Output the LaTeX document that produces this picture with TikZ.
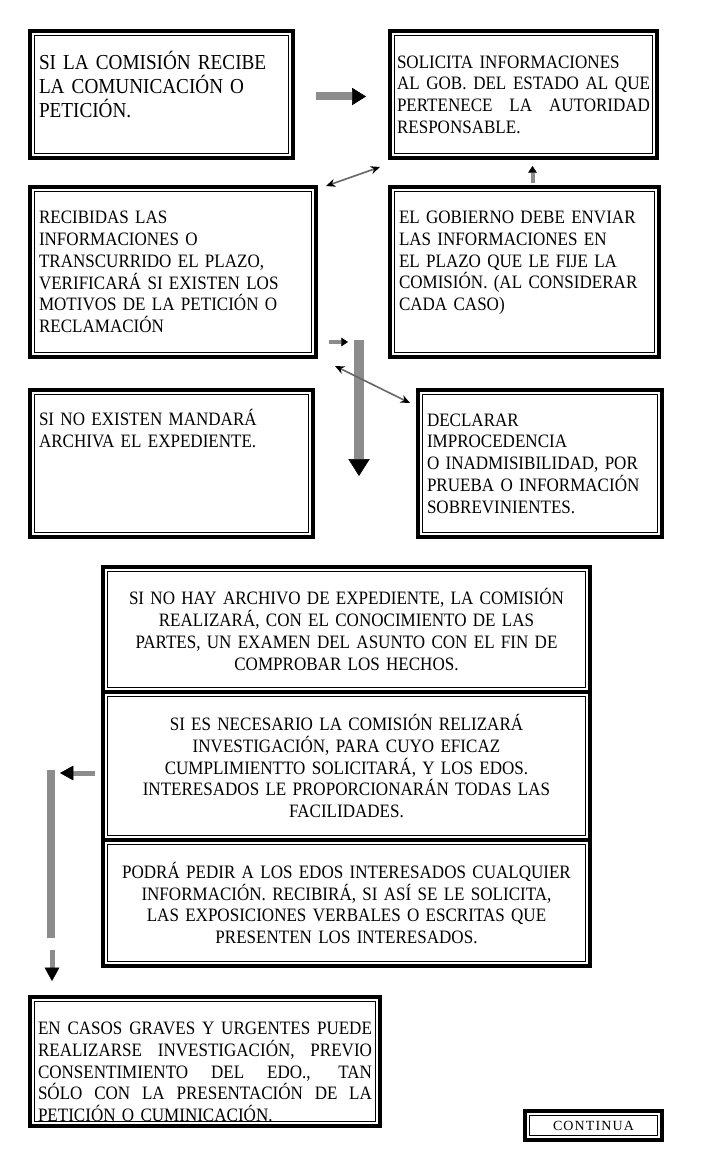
\documentclass[tikz,border=0pt]{standalone}
\usepackage{fontspec}
\setmainfont{Liberation Serif}[FakeStretch=0.9]
\newfontfamily\contfont{Liberation Serif}[LetterSpace=8]
\usetikzlibrary{arrows.meta}
\definecolor{shaft}{gray}{0.55}
\newcommand\boxfont{\fontsize{14.2}{16.3}\selectfont}
\newcommand\jl[1]{{\spaceskip=\fontdimen2\font plus 1fil\makebox[\hsize][s]{#1}}}
\begin{document}
\begin{tikzpicture}[
    x=0.75pt, y=-0.75pt,
    every node/.style={font=\boxfont},
    frame/.style={draw, line width=3pt, inner xsep=2pt, anchor=north west, align=left,
        path picture={\draw[line width=0.6pt]
            ([shift={(3.6pt,3.6pt)}]path picture bounding box.south west) rectangle
            ([shift={(-3.6pt,-3.6pt)}]path picture bounding box.north east);}},
    fatarrow/.style={draw=shaft, line width=6pt,
        -{Triangle[color=black, line width=0.4pt, length=10.5pt, width=13pt]}},
    droparrow/.style={draw=shaft, line width=7.5pt,
        -{Triangle[color=black, line width=0.4pt, length=12.75pt, width=16pt]}},
    midarrow/.style={draw=shaft, line width=3.75pt,
        -{Triangle[color=black, line width=0.4pt, length=10pt, width=11pt]}},
    smallarrow/.style={draw=shaft, line width=3pt,
        -{Triangle[color=black, line width=0.4pt, length=5pt, width=6.5pt]}},
    thinarrow/.style={draw=black!60, line width=1.2pt,
        {Stealth[color=black, length=7pt, width=6pt]}-{Stealth[color=black, length=7pt, width=6pt]}}
]
    \useasboundingbox (0,0) rectangle (716,1152);

    % upper row
    \node [frame, minimum width=197.25pt, minimum height=95.25pt, text width=183.75pt,
           font=\fontsize{16}{18}\selectfont, text depth=51.5pt] (recibe) at (28,29)
        {SI LA COMISIÓN RECIBE\\ LA COMUNICACIÓN O\\ PETICIÓN.};
    \node [frame, minimum width=200.25pt, minimum height=95.25pt, text width=189.75pt] (solicita) at (388,29)
        {SOLICITA INFORMACIONES\\ \jl{AL GOB. DEL ESTADO AL QUE}\\ \jl{PERTENECE LA AUTORIDAD}\\ RESPONSABLE.};

    % middle rows
    \node [frame, minimum width=214.5pt, minimum height=127.5pt, text width=201pt] (verifica) at (28,185)
        {RECIBIDAS LAS\\ INFORMACIONES O\\ TRANSCURRIDO EL PLAZO,\\ VERIFICARÁ SI EXISTEN LOS\\ MOTIVOS DE LA PETICIÓN O\\ RECLAMACIÓN};
    \node [frame, minimum width=201.75pt, minimum height=127.5pt, text width=188.25pt, text depth=82pt] (gobierno) at (388,185)
        {EL GOBIERNO DEBE ENVIAR\\ LAS INFORMACIONES EN\\ EL PLAZO QUE LE FIJE LA\\ COMISIÓN. (AL CONSIDERAR\\ CADA CASO)};
    \node [frame, minimum width=212.25pt, minimum height=110.25pt, text width=198.75pt, text depth=69.5pt] (archiva) at (28,388)
        {SI NO EXISTEN MANDARÁ\\ ARCHIVA EL EXPEDIENTE.};
    \node [frame, minimum width=183pt, minimum height=110.25pt, text width=169.5pt] (declarar) at (416,388)
        {DECLARAR\\ IMPROCEDENCIA\\ O INADMISIBILIDAD, POR\\ PRUEBA O INFORMACIÓN\\ SOBREVINIENTES.};

    % stacked steps
    \node [frame, align=center, minimum width=365.25pt, minimum height=93.75pt, text width=345pt] (examen) at (101,565)
        {SI NO HAY ARCHIVO DE EXPEDIENTE, LA COMISIÓN\\ REALIZARÁ, CON EL CONOCIMIENTO DE LAS\\ PARTES, UN EXAMEN DEL ASUNTO CON EL FIN DE\\ COMPROBAR LOS HECHOS.};
    \node [frame, align=center, minimum width=365.25pt, minimum height=111pt, text width=345pt] (investiga) at (101,690)
        {SI ES NECESARIO LA COMISIÓN RELIZARÁ\\ INVESTIGACIÓN, PARA CUYO EFICAZ\\ CUMPLIMIENTTO SOLICITARÁ, Y LOS EDOS.\\ INTERESADOS LE PROPORCIONARÁN TODAS LAS\\ FACILIDADES.};
    \node [frame, align=center, minimum width=365.25pt, minimum height=94.5pt, text width=345pt] (pedir) at (101,838)
        {PODRÁ PEDIR A LOS EDOS INTERESADOS CUALQUIER\\ INFORMACIÓN. RECIBIRÁ, SI ASÍ SE LE SOLICITA,\\ LAS EXPOSICIONES VERBALES O ESCRITAS QUE\\ PRESENTEN LOS INTERESADOS.};

    % last box
    \node [frame, minimum width=262.5pt, minimum height=96pt, text width=250.5pt, text height=25pt] (graves) at (28,995)
        {\jl{EN CASOS GRAVES Y URGENTES PUEDE}\\ \jl{REALIZARSE INVESTIGACIÓN, PREVIO}\\ \jl{CONSENTIMIENTO DEL EDO., TAN}\\ \jl{SÓLO CON LA PRESENTACIÓN DE LA}\\ PETICIÓN O CUMINICACIÓN.};
    \node [frame, align=center, minimum width=102.75pt, minimum height=21.75pt,
           font=\contfont\fontsize{10.5}{12}\selectfont] (continua) at (523,1109) {CONTINUA};

    \coordinate (drop) at (359,340);
    \coordinate (dropend) at (359,476);
    \coordinate (railtop) at (51,770);
    \coordinate (railbot) at (51,938);

    % connectors
    \draw [fatarrow] ([shift={(21,2)}]recibe.east) -- ([shift={(-22,2)}]solicita.west);
    \draw [thinarrow] ([shift={(8,1)}]verifica.north east) -- ([shift={(-8,7)}]solicita.south west);
    \draw [smallarrow] ([shift={(8,-2)}]gobierno.north) -- ([shift={(9,6)}]solicita.south);
    \draw [smallarrow] ([shift={(-30,2)}]drop) -- ([shift={(-11,2)}]drop);
    \draw [droparrow] (drop) -- (dropend);
    \draw [thinarrow] ([shift={(17,7)}]verifica.south east) -- ([shift={(-6,15)}]declarar.north west);
    \draw [midarrow] ([shift={(-6,7)}]investiga.west) -- ([shift={(-41,7)}]investiga.west);
    \draw [draw=shaft, line width=6pt] (railtop) -- (railbot);
    \draw [midarrow] ([shift={(1,12)}]railbot) -- ([shift={(1,43)}]railbot);
\end{tikzpicture}
\end{document}
